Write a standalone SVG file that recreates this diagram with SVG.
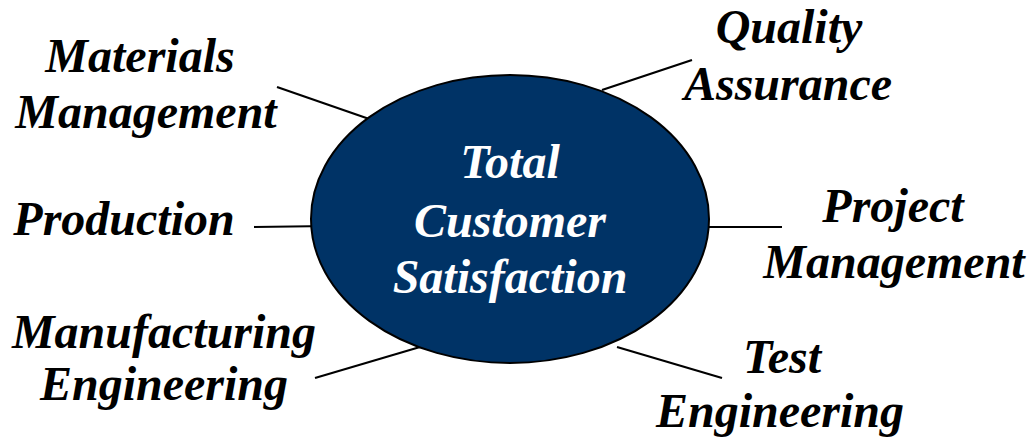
<svg xmlns="http://www.w3.org/2000/svg" width="1030" height="440" viewBox="0 0 1030 440">
<style>
.lbl{font-family:"Liberation Serif","Times New Roman",serif;font-weight:bold;font-style:italic;font-size:48px;fill:#000;text-anchor:middle}
.ctr{fill:#fff}
.conn line{stroke:#000;stroke-width:2.2}
</style>
<rect width="1030" height="440" fill="#fff"/>
<g id="connectors" class="conn">
<line x1="277" y1="87" x2="375" y2="121"/>
<line x1="602" y1="90" x2="692" y2="60"/>
<line x1="254" y1="227" x2="329" y2="226"/>
<line x1="707" y1="227" x2="782" y2="227"/>
<line x1="315" y1="378" x2="420" y2="347"/>
<line x1="617" y1="347" x2="722" y2="378"/>
</g>
<g id="center">
<ellipse cx="510" cy="219" rx="199" ry="144" fill="#003366" stroke="#000" stroke-width="2"/>
<text class="lbl ctr" x="510" y="178">Total</text>
<text class="lbl ctr" x="510" y="237">Customer</text>
<text class="lbl ctr" x="510" y="293">Satisfaction</text>
</g>
<g id="materials">
<text class="lbl" x="140" y="72">Materials</text>
<text class="lbl" x="146" y="128">Management</text>
</g>
<g id="quality">
<text class="lbl" x="789" y="43">Quality</text>
<text class="lbl" x="788" y="100">Assurance</text>
</g>
<g id="production">
<text class="lbl" x="124" y="235">Production</text>
</g>
<g id="project">
<text class="lbl" x="893" y="222">Project</text>
<text class="lbl" x="894" y="278">Management</text>
</g>
<g id="manufacturing">
<text class="lbl" x="164" y="348">Manufacturing</text>
<text class="lbl" x="164" y="400">Engineering</text>
</g>
<g id="test">
<text class="lbl" x="782" y="373">Test</text>
<text class="lbl" x="780" y="427">Engineering</text>
</g>
</svg>
